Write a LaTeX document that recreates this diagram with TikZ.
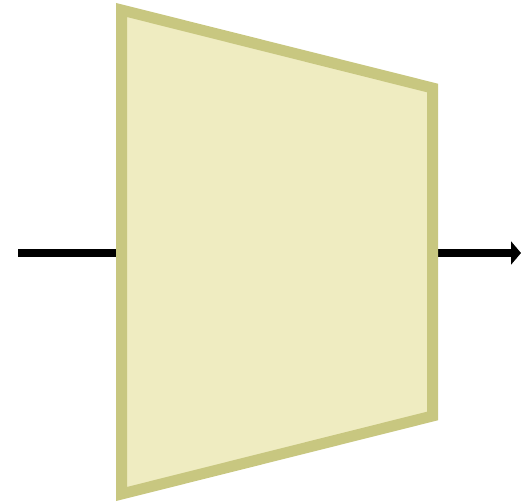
\documentclass[tikz,border=0pt]{standalone}
\usetikzlibrary{arrows.meta}
\definecolor{trapfill}{RGB}{239,236,193}
\definecolor{trapdraw}{RGB}{200,199,128}
\begin{document}
\begin{tikzpicture}[x=1pt,y=-1pt,
  wire/.style={line width=7.5pt,black},
  trap/.style={line width=11pt,draw=trapdraw,fill=trapfill,line join=miter}]
\useasboundingbox (0,0) rectangle (521,502);
\coordinate (in) at (18,253);
\coordinate (tl) at (121.5,10);
\coordinate (tr) at (432.5,88);
\coordinate (br) at (432.5,416);
\coordinate (bl) at (121.5,494);
\coordinate (inport) at (121.5,253);
\coordinate (outport) at (432.5,253);
\coordinate (out) at (521,253);
\draw[wire] (in) -- (inport);
\draw[wire,-{Triangle[length=10pt,width=23pt]}] (outport) -- (out);
\path[trap] (tl) -- (tr) -- (br) -- (bl) -- cycle;
\end{tikzpicture}
\end{document}
